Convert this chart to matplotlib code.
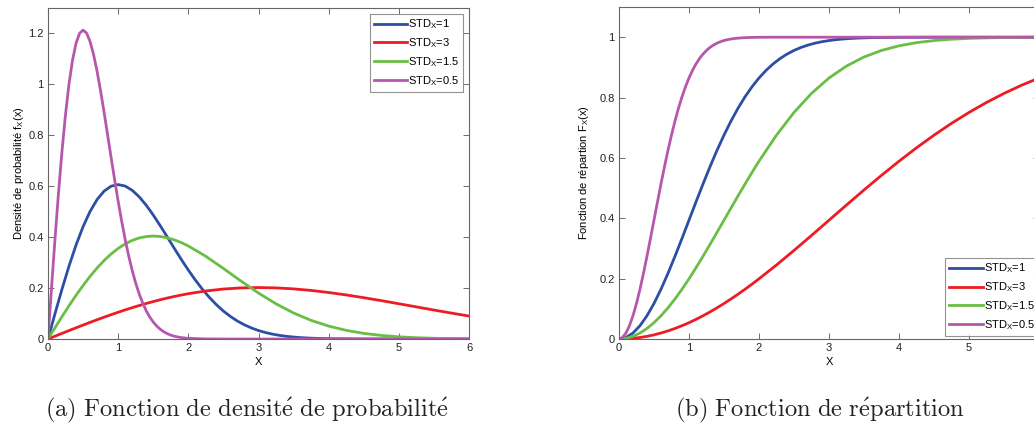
import matplotlib
matplotlib.use('Agg')
import matplotlib.pyplot as plt

plt.rcParams['font.family'] = ['Liberation Sans', 'DejaVu Sans']
plt.rcParams['mathtext.default'] = 'regular'

# x positions (finer where the curve bends more)
x_std05 = [0.0, 0.05, 0.1, 0.15, 0.2, 0.25, 0.3, 0.35, 0.4, 0.45, 0.5,
           0.55, 0.6, 0.65, 0.7, 0.75, 0.8, 0.85, 0.9, 0.95, 1.0,
           1.05, 1.1, 1.15, 1.2, 1.25, 1.3, 1.35, 1.4, 1.45, 1.5,
           1.55, 1.6, 1.65, 1.7, 1.75, 1.8, 1.85, 1.9, 1.95, 2.0,
           2.25, 2.5, 6.0]
x_std1 = [0.0, 0.1, 0.2, 0.3, 0.4, 0.5, 0.6, 0.7, 0.8, 0.9, 1.0,
          1.1, 1.2, 1.3, 1.4, 1.5, 1.6, 1.7, 1.8, 1.9, 2.0,
          2.1, 2.2, 2.3, 2.4, 2.5, 2.6, 2.7, 2.8, 2.9, 3.0,
          3.1, 3.2, 3.3, 3.4, 3.5, 3.6, 3.7, 3.8, 3.9, 4.0,
          4.5, 5.0, 6.0]
x = [0.0, 0.1, 0.2, 0.3, 0.4, 0.5, 0.6, 0.7, 0.8, 0.9, 1.0,
     1.1, 1.2, 1.3, 1.4, 1.5, 1.6, 1.7, 1.8, 1.9, 2.0,
     2.25, 2.5, 2.75, 3.0, 3.25, 3.5, 3.75, 4.0, 4.25, 4.5,
     4.75, 5.0, 5.25, 5.5, 5.75, 6.0]

# densite f_X(x)
pdf_std1 = [0.0, 0.0995, 0.1960, 0.2868, 0.3692, 0.4412, 0.5012, 0.5479, 0.5809, 0.6003, 0.6065,
            0.6007, 0.5841, 0.5584, 0.5254, 0.4870, 0.4449, 0.4008, 0.3562, 0.3125, 0.2707,
            0.2315, 0.1956, 0.1633, 0.1347, 0.1098, 0.0885, 0.0705, 0.0556, 0.0433, 0.0333,
            0.0254, 0.0191, 0.0143, 0.0105, 0.0077, 0.0055, 0.0039, 0.0028, 0.0019, 0.0013,
            0.0002, 0.0, 0.0]
pdf_std3 = [0.0, 0.0111, 0.0222, 0.0332, 0.0441, 0.0548, 0.0654, 0.0757, 0.0858, 0.0956, 0.1051,
            0.1143, 0.1231, 0.1315, 0.1395, 0.1471, 0.1542, 0.1609, 0.1671, 0.1727, 0.1779,
            0.1887, 0.1963, 0.2007, 0.2022, 0.2008, 0.1969, 0.1908, 0.1827, 0.1731, 0.1623,
            0.1507, 0.1385, 0.1262, 0.1138, 0.1018, 0.0902]
pdf_std15 = [0.0, 0.0444, 0.0881, 0.1307, 0.1716, 0.2102, 0.2462, 0.2790, 0.3084, 0.3341, 0.3559,
             0.3736, 0.3873, 0.3969, 0.4025, 0.4044, 0.4026, 0.3975, 0.3894, 0.3786, 0.3654,
             0.3247, 0.2771, 0.2277, 0.1805, 0.1382, 0.1022, 0.0732, 0.0508, 0.0341, 0.0222,
             0.0140, 0.0086, 0.0051, 0.0029, 0.0017, 0.0009]
pdf_std05 = [0.0, 0.1990, 0.3921, 0.5736, 0.7385, 0.8825, 1.0023, 1.0958, 1.1618, 1.2006, 1.2131,
             1.2014, 1.1682, 1.1169, 1.0509, 0.9740, 0.8897, 0.8016, 0.7124, 0.6250, 0.5413,
             0.4631, 0.3913, 0.3266, 0.2694, 0.2197, 0.1771, 0.1411, 0.1111, 0.0865, 0.0667,
             0.0508, 0.0383, 0.0285, 0.0210, 0.0153, 0.0110, 0.0079, 0.0056, 0.0039, 0.0027,
             0.0004, 0.0, 0.0]

# repartition F_X(x)
cdf_std1 = [0.0, 0.0050, 0.0198, 0.0440, 0.0769, 0.1175, 0.1647, 0.2173, 0.2739, 0.3330, 0.3935,
            0.4539, 0.5132, 0.5704, 0.6247, 0.6753, 0.7220, 0.7643, 0.8021, 0.8355, 0.8647,
            0.8898, 0.9111, 0.9290, 0.9439, 0.9561, 0.9660, 0.9739, 0.9802, 0.9851, 0.9889,
            0.9918, 0.9940, 0.9957, 0.9969, 0.9978, 0.9985, 0.9989, 0.9993, 0.9995, 0.9997,
            1.0, 1.0, 1.0]
cdf_std3 = [0.0, 0.0006, 0.0022, 0.0050, 0.0089, 0.0138, 0.0198, 0.0269, 0.0349, 0.0440, 0.0540,
            0.0650, 0.0769, 0.0896, 0.1032, 0.1175, 0.1326, 0.1483, 0.1647, 0.1817, 0.1993,
            0.2452, 0.2934, 0.3430, 0.3935, 0.4439, 0.4937, 0.5422, 0.5889, 0.6334, 0.6753,
            0.7145, 0.7506, 0.7837, 0.8137, 0.8407, 0.8647]
cdf_std15 = [0.0, 0.0022, 0.0089, 0.0198, 0.0349, 0.0540, 0.0769, 0.1032, 0.1326, 0.1647, 0.1993,
             0.2358, 0.2739, 0.3131, 0.3531, 0.3935, 0.4338, 0.4739, 0.5132, 0.5517, 0.5889,
             0.6753, 0.7506, 0.8137, 0.8647, 0.9044, 0.9343, 0.9561, 0.9714, 0.9819, 0.9889,
             0.9934, 0.9961, 0.9978, 0.9988, 0.9994, 0.9997]
cdf_std05 = [0.0, 0.0050, 0.0198, 0.0440, 0.0769, 0.1175, 0.1647, 0.2173, 0.2739, 0.3330, 0.3935,
             0.4539, 0.5132, 0.5704, 0.6247, 0.6753, 0.7220, 0.7643, 0.8021, 0.8355, 0.8647,
             0.8898, 0.9111, 0.9290, 0.9439, 0.9561, 0.9660, 0.9739, 0.9802, 0.9851, 0.9889,
             0.9918, 0.9940, 0.9957, 0.9969, 0.9978, 0.9985, 0.9989, 0.9993, 0.9995, 0.9997,
             1.0, 1.0, 1.0]

labels = ['STD$_X$=1', 'STD$_X$=3', 'STD$_X$=1.5', 'STD$_X$=0.5']
colors = ['#2c4ea3', '#ed1c24', '#6abd45', '#b657ac']
xs = [x_std1, x, x, x_std05]

captions = [r'$\mathrm{(a)\ Fonction\ de\ densit\acute{e}\ de\ probabilit\acute{e}}$',
            r'$\mathrm{(b)\ Fonction\ de\ r\acute{e}partition}$']

fig = plt.figure(figsize=(10.34, 4.28), dpi=100)
ax1 = fig.add_axes([0.0464, 0.2079, 0.4072, 0.7734])
ax2 = fig.add_axes([0.5986, 0.2079, 0.4062, 0.7757])

for xx, ys, c, lab in zip(xs, [pdf_std1, pdf_std3, pdf_std15, pdf_std05], colors, labels):
    ax1.plot(xx, ys, color=c, linewidth=2, label=lab)
for xx, ys, c, lab in zip(xs, [cdf_std1, cdf_std3, cdf_std15, cdf_std05], colors, labels):
    ax2.plot(xx, ys, color=c, linewidth=2, label=lab)

ax1.set_xlim(0, 6)
ax1.set_ylim(0, 1.3)
ax1.set_xticks([0, 1, 2, 3, 4, 5, 6])
ax1.set_yticks([0, 0.2, 0.4, 0.6, 0.8, 1, 1.2])
ax1.set_yticklabels(['0', '0.2', '0.4', '0.6', '0.8', '1', '1.2'])
ax1.set_ylabel('Densité de probabilité f$_X$(x)', fontsize=8, labelpad=2)

ax2.set_xlim(0, 6)
ax2.set_ylim(0, 1.1)
ax2.set_xticks([0, 1, 2, 3, 4, 5])
ax2.set_yticks([0, 0.2, 0.4, 0.6, 0.8, 1])
ax2.set_yticklabels(['0', '0.2', '0.4', '0.6', '0.8', '1'])
ax2.set_ylabel('Fonction de répartion F$_X$(x)', fontsize=8, labelpad=6)

for ax in (ax1, ax2):
    ax.set_xlabel('X', fontsize=8, labelpad=3)
    ax.tick_params(direction='in', top=True, right=True, labelsize=8,
                   length=4, width=0.6, color='#555555', labelcolor='#222222', pad=3)
    for s in ax.spines.values():
        s.set_color('#666666')
        s.set_linewidth(0.8)

leg1 = ax1.legend(loc='upper right', fontsize=8, handlelength=3.0, handletextpad=0.1,
                  borderaxespad=0.5, fancybox=False, labelspacing=0.45, borderpad=0.35)
leg1.get_frame().set_edgecolor('#777777')
leg1.get_frame().set_linewidth(0.8)

leg2 = ax2.legend(loc='lower right', fontsize=8, handlelength=3.0, handletextpad=0.1,
                  bbox_to_anchor=(1.0, 0.01), borderaxespad=0, fancybox=False,
                  labelspacing=0.45, borderpad=0.35)
leg2.get_frame().set_edgecolor('#777777')
leg2.get_frame().set_linewidth(0.8)

fig.text(0.239, 0.026, captions[0], ha='center', va='baseline',
         fontsize=17.7, math_fontfamily='cm', color='#222222')
fig.text(0.793, 0.026, captions[1], ha='center', va='baseline',
         fontsize=17.7, math_fontfamily='cm', color='#222222')

fig.savefig('out.png', dpi=100)
